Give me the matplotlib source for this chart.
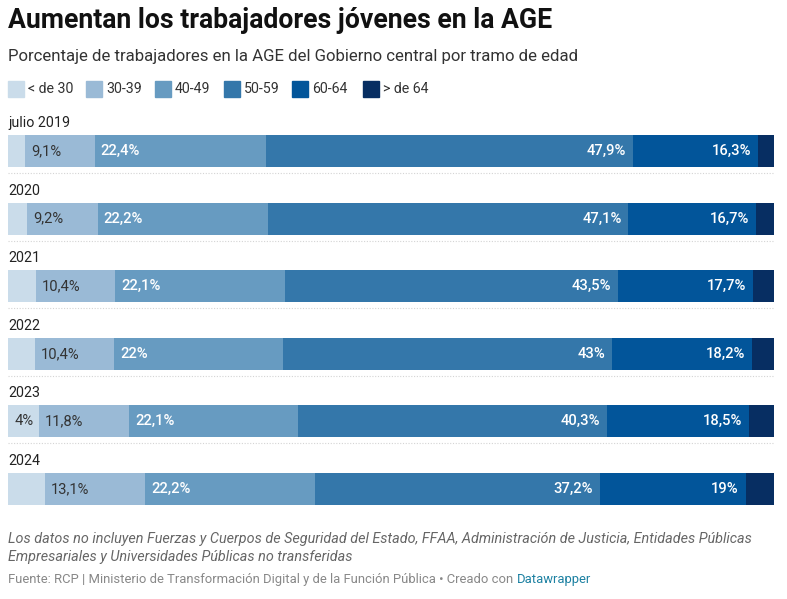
import numpy as np
import matplotlib
matplotlib.use("Agg")
import matplotlib.pyplot as plt
import matplotlib.transforms as mtransforms

plt.rcParams['font.family'] = ['Roboto', 'DejaVu Sans']

years = ['julio 2019', '2020', '2021', '2022', '2023', '2024']
groups = ['< de 30', '30-39', '40-49', '50-59', '60-64', '> de 64']
colors = ['#cadcea', '#9abad6', '#679bc1', '#3477aa', '#02559a', '#072e62']

# share of workers per age group, one list per group (rows = years)
menos_30 = [2.2, 2.5, 3.6, 3.5, 4.0, 4.8]
de_30_39 = [9.1, 9.2, 10.4, 10.4, 11.8, 13.1]
de_40_49 = [22.4, 22.2, 22.1, 22.0, 22.1, 22.2]
de_50_59 = [47.9, 47.1, 43.5, 43.0, 40.3, 37.2]
de_60_64 = [16.3, 16.7, 17.7, 18.2, 18.5, 19.0]
mas_64 = [2.1, 2.3, 2.7, 2.9, 3.3, 3.7]

# which segments get a label
shown = {
    0: [False, False, False, False, True, False],
    1: [True] * 6,
    2: [True] * 6,
    3: [True] * 6,
    4: [True] * 6,
}
label_text = {
    0: ['', '', '', '', '4%', ''],
    1: ['9,1%', '9,2%', '10,4%', '10,4%', '11,8%', '13,1%'],
    2: ['22,4%', '22,2%', '22,1%', '22%', '22,1%', '22,2%'],
    3: ['47,9%', '47,1%', '43,5%', '43%', '40,3%', '37,2%'],
    4: ['16,3%', '16,7%', '17,7%', '18,2%', '18,5%', '19%'],
}

data = np.array([menos_30, de_30_39, de_40_49, de_50_59, de_60_64, mas_64])

W, H = 787, 599
fig = plt.figure(figsize=(W / 100, H / 100), dpi=100)

row_px = 67.5
bar_h = 32 / row_px
top_px = 151 - 0.7 * row_px
bot_px = 505
ax = fig.add_axes([8 / W, 1 - bot_px / H, 766 / W, (bot_px - top_px) / H])
ax.set_xlim(0, data.sum(axis=0).max())
ax.set_ylim(5 + bar_h / 2, -0.7)
ax.axis('off')

y = np.arange(len(years))
left = np.zeros(len(years))
for g in range(len(groups)):
    ax.barh(y, data[g], left=left, height=bar_h, color=colors[g], linewidth=0)
    if g in label_text:
        for i in range(len(years)):
            if not shown[g][i]:
                continue
            light = g < 2
            col = '#333333' if light else 'white'
            weight = 'normal' if light else 'medium'
            if g <= 2:
                ax.annotate(label_text[g][i], (left[i], y[i]), xytext=(4.5, 0),
                            textcoords='offset points', ha='left', va='center',
                            fontsize=10.6, color=col, fontweight=weight)
            else:
                ax.annotate(label_text[g][i], (left[i] + data[g][i], y[i]), xytext=(-5, 0),
                            textcoords='offset points', ha='right', va='center',
                            fontsize=10.6, color=col, fontweight=weight)
    left += data[g]

trans = mtransforms.blended_transform_factory(ax.transAxes, ax.transData)
for i, yr in enumerate(years):
    ax.text(0, i - bar_h / 2 - 8 / row_px, yr, transform=trans, ha='left',
            va='baseline', fontsize=10.3, color='#222222')
    if i < len(years) - 1:
        ax.plot([0, 1], [i + bar_h / 2 + 6 / row_px] * 2, transform=trans,
                color='#d4d4d4', linestyle=(0, (1, 1.5)), linewidth=0.8)

# title, subtitle
fig.text(8 / W, 1 - 28 / H, 'Aumentan los trabajadores jóvenes en la AGE',
         fontsize=19.2, fontweight='bold', color='#111111', ha='left', va='baseline')
fig.text(8 / W, 1 - 61 / H, 'Porcentaje de trabajadores en la AGE del Gobierno central por tramo de edad',
         fontsize=12.1, color='#333333', ha='left', va='baseline')

# legend
leg_x = [8, 86, 155, 224, 292, 363]
for gx, name, c in zip(leg_x, groups, colors):
    fig.patches.append(plt.Rectangle((gx / W, 1 - 97 / H), 16 / W, 16 / H,
                                     transform=fig.transFigure, color=c, figure=fig))
    fig.text((gx + 20) / W, 1 - 89 / H, name, fontsize=10.2, color='#333333',
             ha='left', va='center')

# notes
fig.text(8 / W, 1 - 543 / H,
         'Los datos no incluyen Fuerzas y Cuerpos de Seguridad del Estado, FFAA, Administración de Justicia, Entidades Públicas',
         fontsize=10.4, style='italic', color='#666666', ha='left', va='baseline')
fig.text(8 / W, 1 - 561 / H,
         'Empresariales y Universidades Públicas no transferidas',
         fontsize=10.4, style='italic', color='#666666', ha='left', va='baseline')
src = fig.text(8 / W, 1 - 583 / H,
               'Fuente: RCP | Ministerio de Transformación Digital y de la Función Pública • Creado con ',
               fontsize=9.4, color='#888888', ha='left', va='baseline')
fig.canvas.draw()
bb = src.get_window_extent()
fig.text(bb.x1 / W, 1 - 583 / H, 'Datawrapper', fontsize=9.4, color='#1d81a2',
         ha='left', va='baseline')

fig.savefig('out.png', dpi=100)
